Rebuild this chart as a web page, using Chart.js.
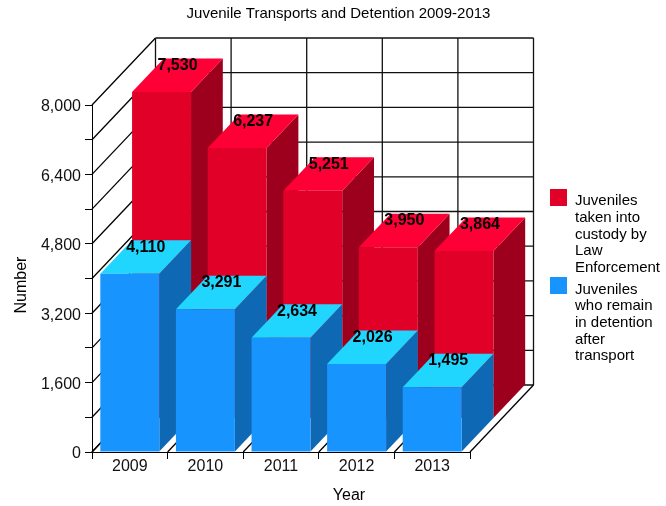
<!doctype html>
<html lang="en">
<head>
    <meta charset="utf-8">
    <title>Juvenile Transports and Detention 2009-2013</title>
    <script src="https://cdn.jsdelivr.net/npm/chart.js@4/dist/chart.umd.min.js"></script>
    <style>
        html, body { margin: 0; padding: 0; background: #fff; }
        canvas { display: block; }
    </style>
</head>
<body>
<canvas id="chart" width="666" height="506"></canvas>
<script>
    const chartTitle = "Juvenile Transports and Detention 2009-2013";
    const years = ["2009", "2010", "2011", "2012", "2013"];
    const custody = [7530, 6237, 5251, 3950, 3864];
    const detention = [4110, 3291, 2634, 2026, 1495];
    const custodyLegend = ["Juveniles", "taken into", "custody by", "Law", "Enforcement"];
    const detentionLegend = ["Juveniles", "who remain", "in detention", "after", "transport"];

    const fontName = '"Liberation Sans", Arial, sans-serif';

    // depth of the whole box, each series takes half of it
    const depthX = 63.5;
    const depthY = 67;

    const redFaces = { front: "#e00028", top: "#ff0036", side: "#9c001c" };
    const blueFaces = { front: "#1894ff", top: "#20d6ff", side: "#0f68b3" };

    function line(ctx, x1, y1, x2, y2, color) {
        ctx.strokeStyle = color;
        ctx.lineWidth = 1.3;
        ctx.beginPath();
        ctx.moveTo(x1, y1);
        ctx.lineTo(x2, y2);
        ctx.stroke();
    }

    function face(ctx, color, points) {
        ctx.fillStyle = color;
        ctx.beginPath();
        points.forEach((p, i) => i ? ctx.lineTo(p[0], p[1]) : ctx.moveTo(p[0], p[1]));
        ctx.closePath();
        ctx.fill();
    }

    function drawWalls(chart) {
        const ctx = chart.ctx;
        const { left, right, top, bottom } = chart.chartArea;
        const y = chart.scales.y;
        const wallColor = "#111";

        ctx.save();
        y.ticks.forEach(t => {
            const py = y.getPixelForValue(t.value);
            line(ctx, left, py, left + depthX, py - depthY, "#000");
            line(ctx, left + depthX, py - depthY, right + depthX, py - depthY, wallColor);
        });
        const step = (right - left) / years.length;
        for (let i = 0; i <= years.length; i++) {
            const px = left + i * step;
            line(ctx, px, bottom, px + depthX, bottom - depthY, "#000");
            line(ctx, px + depthX, bottom - depthY, px + depthX, top - depthY, wallColor);
        }
        ctx.restore();
    }

    // one bar as three faces, taken from the element the library laid out
    function drawBar(ctx, bar, colors, shiftX, shiftY) {
        const x0 = bar.x - bar.width / 2 + shiftX;
        const x1 = bar.x + bar.width / 2 + shiftX;
        const yTop = bar.y - shiftY;
        const yBase = bar.base - shiftY;
        const dx = depthX / 2;
        const dy = depthY / 2;
        face(ctx, colors.side, [[x1, yTop], [x1 + dx, yTop - dy], [x1 + dx, yBase - dy], [x1, yBase]]);
        face(ctx, colors.top, [[x0, yTop], [x0 + dx, yTop - dy], [x1 + dx, yTop - dy], [x1, yTop]]);
        face(ctx, colors.front, [[x0, yTop], [x1, yTop], [x1, yBase], [x0, yBase]]);
    }

    function drawValues(chart, index, shiftX, shiftY) {
        const ctx = chart.ctx;
        const ds = chart.data.datasets[index];
        chart.getDatasetMeta(index).data.forEach((bar, i) => {
            ctx.fillText(ds.data[i].toLocaleString("en-US"), bar.x + shiftX + 16, bar.y - shiftY - 26.5);
        });
    }

    const box3d = {
        id: "box3d",
        beforeDatasetsDraw(chart) {
            drawWalls(chart);
            const ctx = chart.ctx;
            ctx.save();
            chart.getDatasetMeta(0).data.forEach(bar => drawBar(ctx, bar, redFaces, depthX / 2, depthY / 2));
            chart.getDatasetMeta(1).data.forEach(bar => drawBar(ctx, bar, blueFaces, 0, 0));
            ctx.restore();
        },
        beforeDatasetDraw() {
            return false; // faces are already painted
        },
        afterDatasetsDraw(chart) {
            const ctx = chart.ctx;
            ctx.save();
            ctx.fillStyle = "#000";
            ctx.font = "bold 16px " + fontName;
            ctx.textAlign = "center";
            ctx.textBaseline = "middle";
            drawValues(chart, 0, depthX / 2, depthY / 2);
            drawValues(chart, 1, 0, 0);
            ctx.restore();
        },
        afterDraw(chart) {
            const ctx = chart.ctx;
            ctx.save();
            ctx.fillStyle = "#000";
            ctx.textBaseline = "middle";

            // title and axis names
            ctx.textAlign = "center";
            ctx.font = "15px " + fontName;
            ctx.fillText(chartTitle, 338.5, 14);
            ctx.font = "16px " + fontName;
            ctx.fillText("Year", 349, 496);
            ctx.save();
            ctx.translate(22, 285);
            ctx.rotate(-Math.PI / 2);
            ctx.fillText("Number", 0, 0);
            ctx.restore();

            // legend
            ctx.textAlign = "left";
            ctx.font = "15px " + fontName;
            ctx.fillStyle = redFaces.front;
            ctx.fillRect(550, 189, 17, 17);
            ctx.fillStyle = blueFaces.front;
            ctx.fillRect(550, 277, 17, 17);
            ctx.fillStyle = "#000";
            custodyLegend.forEach((t, i) => ctx.fillText(t, 575, 201 + i * 16.7));
            detentionLegend.forEach((t, i) => ctx.fillText(t, 575, 289.5 + i * 16.7));
            ctx.restore();
        }
    };

    new Chart(document.getElementById("chart"), {
        type: "bar",
        data: {
            labels: years,
            datasets: [
                { label: custodyLegend.join(" "), data: custody, backgroundColor: redFaces.front },
                { label: detentionLegend.join(" "), data: detention, backgroundColor: blueFaces.front }
            ]
        },
        options: {
            responsive: false,
            animation: false,
            layout: { padding: { top: 105, right: 196 } },
            plugins: { legend: { display: false }, title: { display: false }, tooltip: { enabled: false } },
            datasets: { bar: { grouped: false, barPercentage: 0.78, categoryPercentage: 1 } },
            scales: {
                x: {
                    afterFit(scale) { scale.height = 54; },
                    grid: { offset: true, drawOnChartArea: false, tickLength: 7, color: "#000" },
                    border: { color: "#000" },
                    ticks: { color: "#111", padding: -2, maxRotation: 0, font: { family: fontName, size: 16 } }
                },
                y: {
                    min: 0,
                    max: 8000,
                    afterFit(scale) { scale.width = 92; },
                    grid: { drawOnChartArea: false, tickLength: 7, color: "#000" },
                    border: { color: "#000" },
                    ticks: {
                        stepSize: 800,
                        autoSkip: false,
                        color: "#111",
                        padding: 4,
                        labelOffset: 2,
                        font: { family: fontName, size: 16 },
                        callback: function (value) {
                            return value % 1600 === 0 ? value.toLocaleString("en-US") : "";
                        }
                    }
                }
            }
        },
        plugins: [box3d]
    });
</script>
</body>
</html>
